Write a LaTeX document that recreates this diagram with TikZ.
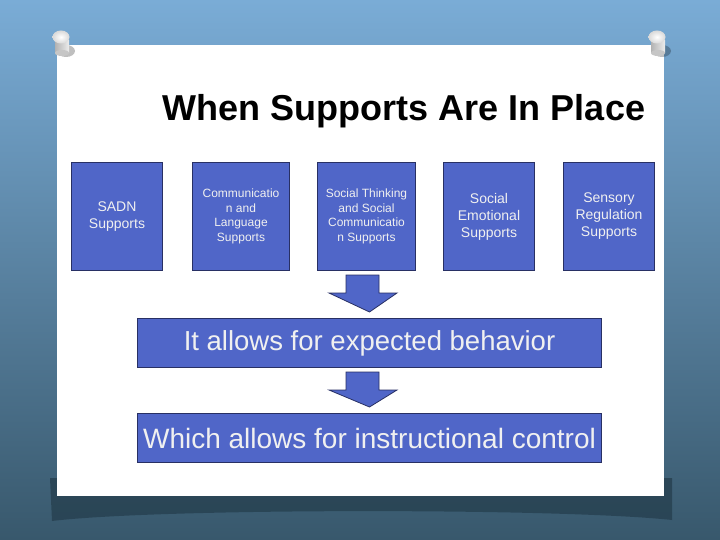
\documentclass[tikz,border=0pt]{standalone}
\usepackage{fontspec}
\setmainfont{Liberation Sans}
\usetikzlibrary{shadings}
\definecolor{boxfill}{RGB}{80,102,200}
\definecolor{boxline}{RGB}{40,48,100}
\definecolor{bgtop}{RGB}{122,172,214}
\definecolor{bgbot}{RGB}{56,88,108}
\definecolor{shadowc}{RGB}{40,66,82}
\definecolor{boxtext}{RGB}{240,240,240}
\tikzset{
  supbox/.style={draw=boxline, line width=1pt, fill=boxfill, text=boxtext, align=center,
    inner sep=0pt, anchor=north west},
  widebox/.style={draw=boxline, line width=1pt, fill=boxfill, text=boxtext, align=center,
    inner sep=0pt, anchor=north west, minimum width=464pt},
  downarrow/.style={draw=boxline, line width=0.8pt, fill=boxfill},
}
\begin{document}
\begin{tikzpicture}[x=1pt,y=-1pt]
\useasboundingbox (0,0) rectangle (720,540);
% background
\shade[top color=bgtop, bottom color=bgbot] (0,0) rectangle (720,540);
% shadow below paper
\fill[shadowc, opacity=0.85] (50,478) -- (672,478) -- (672,520) .. controls (560,508) and (160,508) .. (52,521) -- cycle;
% paper
\fill[white] (57,45) rectangle (664,496);
% pins
\foreach \px in {62,658}{
  \fill[black, opacity=0.25] (\px+4,51) ellipse (9 and 6);
  \shade[left color=gray!60, right color=gray!15] (\px-7,41) rectangle (\px+7,53);
  \fill[gray!45] (\px,53) ellipse (7 and 3);
  \shade[inner color=white, outer color=gray!30] (\px-1,37) ellipse (8.5 and 6.5);
}
% title
\node[font=\bfseries\fontsize{36}{42}\selectfont, text=black] (title) at (404,111) {When Supports Are In Place};
% support boxes
\node[supbox, minimum width=91pt, minimum height=108pt, font=\fontsize{14}{17}\selectfont] (b1) at (71,162) {SADN\\Supports};
\node[supbox, minimum width=97pt, minimum height=108pt, font=\fontsize{12}{14.7}\selectfont] (b2) at (192,162) {Communicatio\\n and\\Language\\Supports};
\node[supbox, minimum width=98pt, minimum height=108pt, font=\fontsize{12}{14.7}\selectfont] (b3) at (317,162) {Social Thinking\\and Social\\Communicatio\\n Supports};
\node[supbox, minimum width=91pt, minimum height=108pt, font=\fontsize{14}{17}\selectfont] (b4) at (443,162) {Social\\Emotional\\Supports};
\node[supbox, minimum width=91pt, minimum height=108pt, font=\fontsize{14}{17}\selectfont] (b5) at (563,162) {Sensory\\Regulation\\Supports};
% wide boxes
\node[widebox, minimum height=49pt, font=\fontsize{27.5}{32}\selectfont] (w1) at (137,318) {It allows for expected behavior};
\node[widebox, minimum height=49pt, font=\fontsize{28}{33}\selectfont] (w2) at (137,413) {Which allows for instructional control};
% arrows
\coordinate (a1) at (363,275);
\coordinate (a2) at (363,372);
\foreach \a/\d in {a1/w1, a2/w2}{
  \draw[downarrow] ([xshift=-17pt]\a) -- ([xshift=16pt]\a) -- ([xshift=16pt,yshift=-18pt]\a)
    -- ([xshift=34pt,yshift=-18pt]\a) -- ([yshift=6pt]\d.north) -- ([xshift=-34pt,yshift=-18pt]\a)
    -- ([xshift=-17pt,yshift=-18pt]\a) -- cycle;
}
\end{tikzpicture}
\end{document}
